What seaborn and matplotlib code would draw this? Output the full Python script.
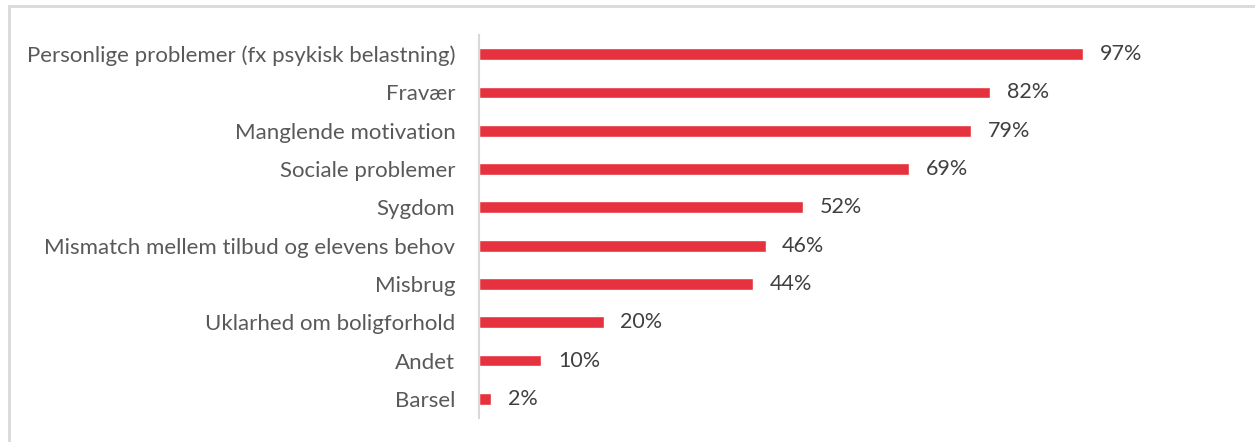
import matplotlib
matplotlib.use("Agg")
import matplotlib.pyplot as plt
from matplotlib.patches import Rectangle
import seaborn as sns
import pandas as pd

categories = [
    "Personlige problemer (fx psykisk belastning)",
    "Fravær",
    "Manglende motivation",
    "Sociale problemer",
    "Sygdom",
    "Mismatch mellem tilbud og elevens behov",
    "Misbrug",
    "Uklarhed om boligforhold",
    "Andet",
    "Barsel",
]
values = [97, 82, 79, 69, 52, 46, 44, 20, 10, 2]

df = pd.DataFrame({"kategori": categories, "andel": values})

sns.set_theme(style="white")
plt.rcParams["font.family"] = ["Lato", "DejaVu Sans"]

W, H = 1255, 442
fig = plt.figure(figsize=(W / 100, H / 100), dpi=100)
ax = fig.add_axes([479 / W, (H - 418) / H, (1102 - 479) / W, (418 - 35) / H])

bar_color = "#e5323e"
text_color = "#595959"

sns.barplot(data=df, y="kategori", x="andel", orient="h", color=bar_color,
            width=0.31, saturation=1, ax=ax)

ax.set_xlim(0, 100)
ax.set_ylim(len(categories) - 0.5, -0.5)
ax.set_xlabel("")
ax.set_ylabel("")
ax.set_xticks([])
ax.tick_params(axis="y", length=0, pad=17, labelsize=16, labelcolor=text_color)

for side in ["top", "right", "bottom"]:
    ax.spines[side].set_visible(False)
ax.spines["left"].set_color("#d9d9d9")
ax.spines["left"].set_linewidth(1.5)

for i, v in enumerate(values):
    ax.annotate(f"{v}%", xy=(v, i), xytext=(12, 0), textcoords="offset points",
                va="center", ha="left", fontsize=15.5, color="#404040")

# outer frame around the chart area
fig.patches.append(Rectangle((9 / W, -0.05), 1.0, (H - 6) / H + 0.05,
                             transform=fig.transFigure, fill=False,
                             edgecolor="#d9d9d9", linewidth=2))

fig.savefig("out.png", dpi=100, facecolor="white")
